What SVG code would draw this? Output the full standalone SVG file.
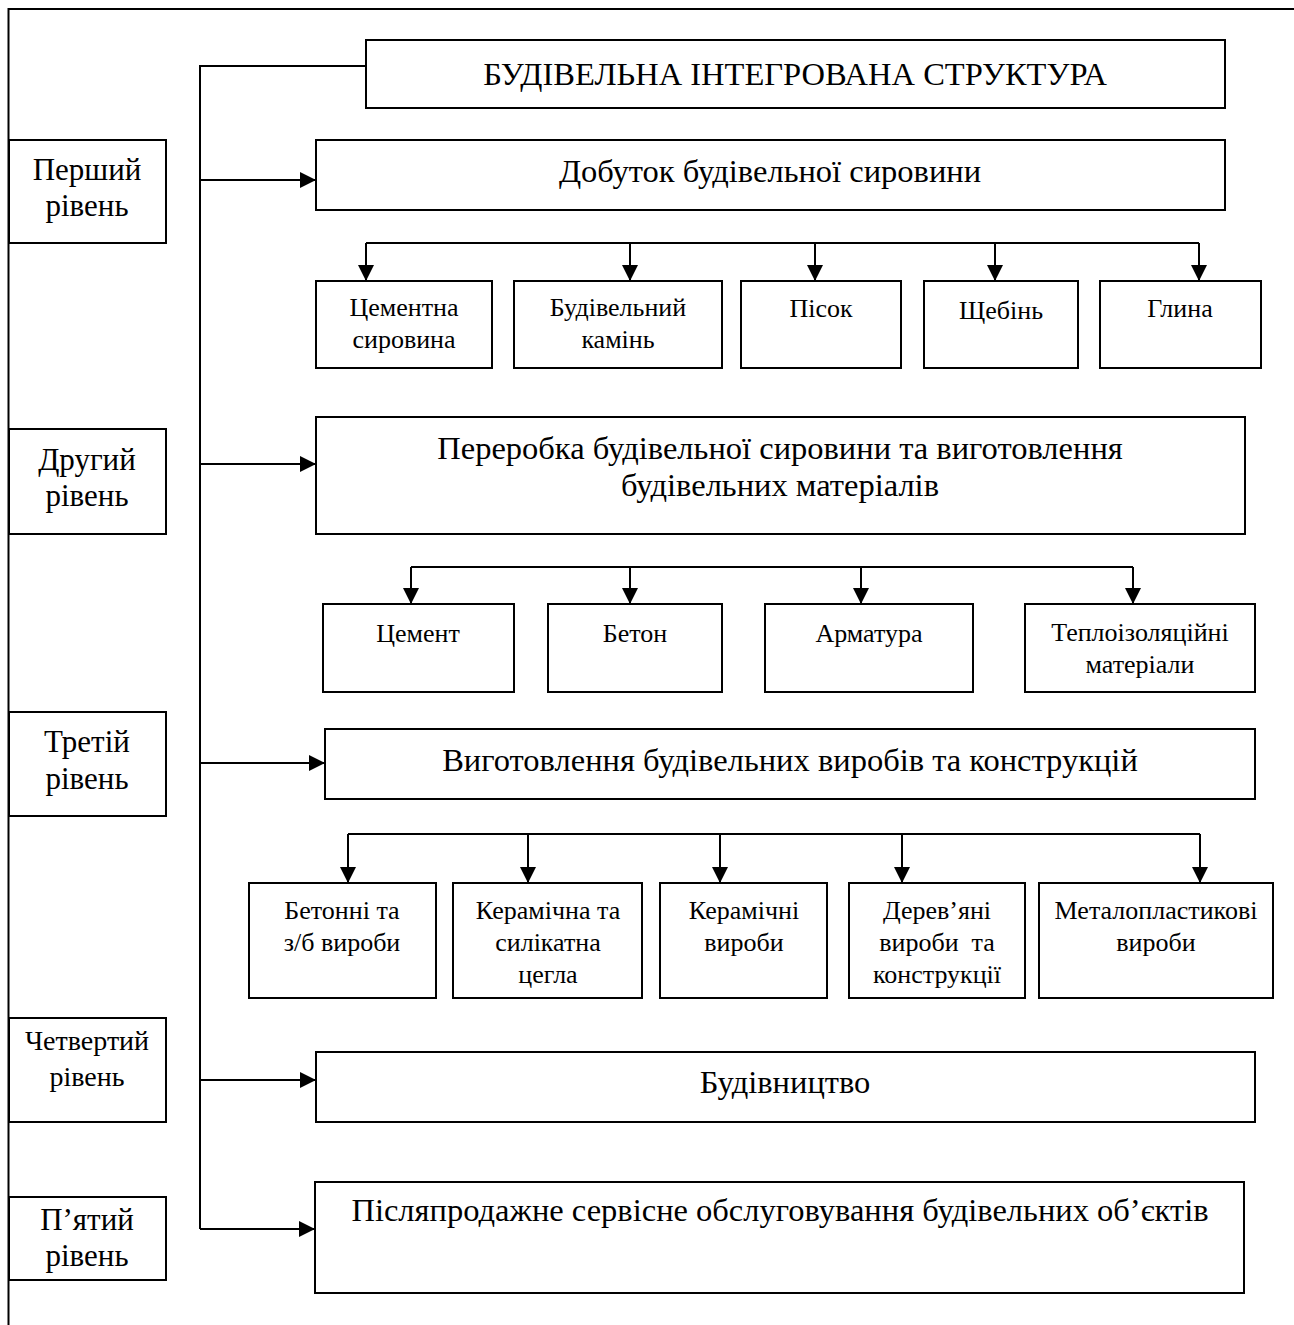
<svg xmlns="http://www.w3.org/2000/svg" width="1294" height="1325" viewBox="0 0 1294 1325">
<style>
.box{fill:#fff;stroke:#000;stroke-width:2}
.ln{fill:none;stroke:#000;stroke-width:2}
.arr{fill:none;stroke:#000;stroke-width:2;marker-end:url(#ah)}
text{font-family:"Liberation Serif","Times New Roman",serif;fill:#000;text-anchor:middle}
.t1{font-size:32.5px}
.t2{font-size:31px}
.t4{font-size:28px}
.t3{font-size:26px}
</style>
<defs>
<marker id="ah" markerUnits="userSpaceOnUse" markerWidth="16" markerHeight="16" refX="16" refY="8" orient="auto" viewBox="0 0 16 16">
<path d="M0,0 L16,8 L0,16 Z" fill="#000"/>
</marker>
</defs>
<rect width="1294" height="1325" fill="#fff"/>
<g id="frame">
<polyline class="ln" points="8.5,1325 8.5,9 1294,9"/>
</g>
<g id="connectors">
<polyline class="ln" points="366,66 200,66 200,1229"/>
<line class="arr" x1="200" y1="180" x2="316" y2="180"/>
<line class="arr" x1="200" y1="464" x2="316" y2="464"/>
<line class="arr" x1="200" y1="763" x2="325" y2="763"/>
<line class="arr" x1="200" y1="1080" x2="316" y2="1080"/>
<line class="arr" x1="200" y1="1229" x2="315" y2="1229"/>
<line class="ln" x1="366" y1="243" x2="1199" y2="243"/>
<line class="arr" x1="366" y1="243" x2="366" y2="281"/>
<line class="arr" x1="630" y1="243" x2="630" y2="281"/>
<line class="arr" x1="815" y1="243" x2="815" y2="281"/>
<line class="arr" x1="995" y1="243" x2="995" y2="281"/>
<line class="arr" x1="1199" y1="243" x2="1199" y2="281"/>
<line class="ln" x1="411" y1="567" x2="1133" y2="567"/>
<line class="arr" x1="411" y1="567" x2="411" y2="604"/>
<line class="arr" x1="630" y1="567" x2="630" y2="604"/>
<line class="arr" x1="861" y1="567" x2="861" y2="604"/>
<line class="arr" x1="1133" y1="567" x2="1133" y2="604"/>
<line class="ln" x1="348" y1="834" x2="1200" y2="834"/>
<line class="arr" x1="348" y1="834" x2="348" y2="883"/>
<line class="arr" x1="528" y1="834" x2="528" y2="883"/>
<line class="arr" x1="720" y1="834" x2="720" y2="883"/>
<line class="arr" x1="902" y1="834" x2="902" y2="883"/>
<line class="arr" x1="1200" y1="834" x2="1200" y2="883"/>
</g>
<g id="root">
<rect class="box" x="366" y="40" width="859" height="68"/>
<text class="t1" x="795" y="85">БУДІВЕЛЬНА ІНТЕГРОВАНА СТРУКТУРА</text>
</g>
<g id="level1">
<rect class="box" x="9" y="140" width="157" height="103"/>
<text class="t2" x="87" y="180">Перший</text>
<text class="t2" x="87" y="216">рівень</text>
</g>
<g id="level2">
<rect class="box" x="9" y="429" width="157" height="105"/>
<text class="t2" x="87" y="470">Другий</text>
<text class="t2" x="87" y="506">рівень</text>
</g>
<g id="level3">
<rect class="box" x="9" y="712" width="157" height="104"/>
<text class="t2" x="87" y="752">Третій</text>
<text class="t2" x="87" y="789">рівень</text>
</g>
<g id="level4">
<rect class="box" x="9" y="1018" width="157" height="104"/>
<text class="t4" x="87" y="1050">Четвертий</text>
<text class="t4" x="87" y="1086">рівень</text>
</g>
<g id="level5">
<rect class="box" x="9" y="1197" width="157" height="83"/>
<text class="t2" x="87" y="1230">П’ятий</text>
<text class="t2" x="87" y="1266">рівень</text>
</g>
<g id="stage1">
<rect class="box" x="316" y="140" width="909" height="70"/>
<text class="t1" x="770" y="182">Добуток будівельної сировини</text>
</g>
<g id="raw1">
<rect class="box" x="316" y="281" width="176" height="87"/>
<text class="t3" x="404" y="316">Цементна</text>
<text class="t3" x="404" y="348">сировина</text>
</g>
<g id="raw2">
<rect class="box" x="514" y="281" width="208" height="87"/>
<text class="t3" x="618" y="316">Будівельний</text>
<text class="t3" x="618" y="348">камінь</text>
</g>
<g id="raw3">
<rect class="box" x="741" y="281" width="160" height="87"/>
<text class="t3" x="821" y="317">Пісок</text>
</g>
<g id="raw4">
<rect class="box" x="924" y="281" width="154" height="87"/>
<text class="t3" x="1001" y="319">Щебінь</text>
</g>
<g id="raw5">
<rect class="box" x="1100" y="281" width="161" height="87"/>
<text class="t3" x="1180" y="317">Глина</text>
</g>
<g id="stage2">
<rect class="box" x="316" y="417" width="929" height="117"/>
<text class="t1" x="780" y="459">Переробка будівельної сировини та виготовлення</text>
<text class="t1" x="780" y="496">будівельних матеріалів</text>
</g>
<g id="mat1">
<rect class="box" x="323" y="604" width="191" height="88"/>
<text class="t3" x="418" y="642">Цемент</text>
</g>
<g id="mat2">
<rect class="box" x="548" y="604" width="174" height="88"/>
<text class="t3" x="635" y="642">Бетон</text>
</g>
<g id="mat3">
<rect class="box" x="765" y="604" width="208" height="88"/>
<text class="t3" x="869" y="642">Арматура</text>
</g>
<g id="mat4">
<rect class="box" x="1025" y="604" width="230" height="88"/>
<text class="t3" x="1140" y="641">Теплоізоляційні</text>
<text class="t3" x="1140" y="673">матеріали</text>
</g>
<g id="stage3">
<rect class="box" x="325" y="729" width="930" height="70"/>
<text class="t1" x="790" y="771">Виготовлення будівельних виробів та конструкцій</text>
</g>
<g id="prod1">
<rect class="box" x="249" y="883" width="187" height="115"/>
<text class="t3" x="342" y="919">Бетонні та</text>
<text class="t3" x="342" y="951">з/б вироби</text>
</g>
<g id="prod2">
<rect class="box" x="453" y="883" width="189" height="115"/>
<text class="t3" x="548" y="919">Керамічна та</text>
<text class="t3" x="548" y="951">силікатна</text>
<text class="t3" x="548" y="983">цегла</text>
</g>
<g id="prod3">
<rect class="box" x="660" y="883" width="167" height="115"/>
<text class="t3" x="744" y="919">Керамічні</text>
<text class="t3" x="744" y="951">вироби</text>
</g>
<g id="prod4">
<rect class="box" x="849" y="883" width="176" height="115"/>
<text class="t3" x="937" y="919">Дерев’яні</text>
<text class="t3" x="937" y="951" xml:space="preserve">вироби  та</text>
<text class="t3" x="937" y="983">конструкції</text>
</g>
<g id="prod5">
<rect class="box" x="1039" y="883" width="234" height="115"/>
<text class="t3" x="1156" y="919">Металопластикові</text>
<text class="t3" x="1156" y="951">вироби</text>
</g>
<g id="stage4">
<rect class="box" x="316" y="1052" width="939" height="70"/>
<text class="t1" x="785" y="1093">Будівництво</text>
</g>
<g id="stage5">
<rect class="box" x="315" y="1182" width="929" height="111"/>
<text class="t1" x="780" y="1221">Післяпродажне сервісне обслуговування будівельних об’єктів</text>
</g>
</svg>
